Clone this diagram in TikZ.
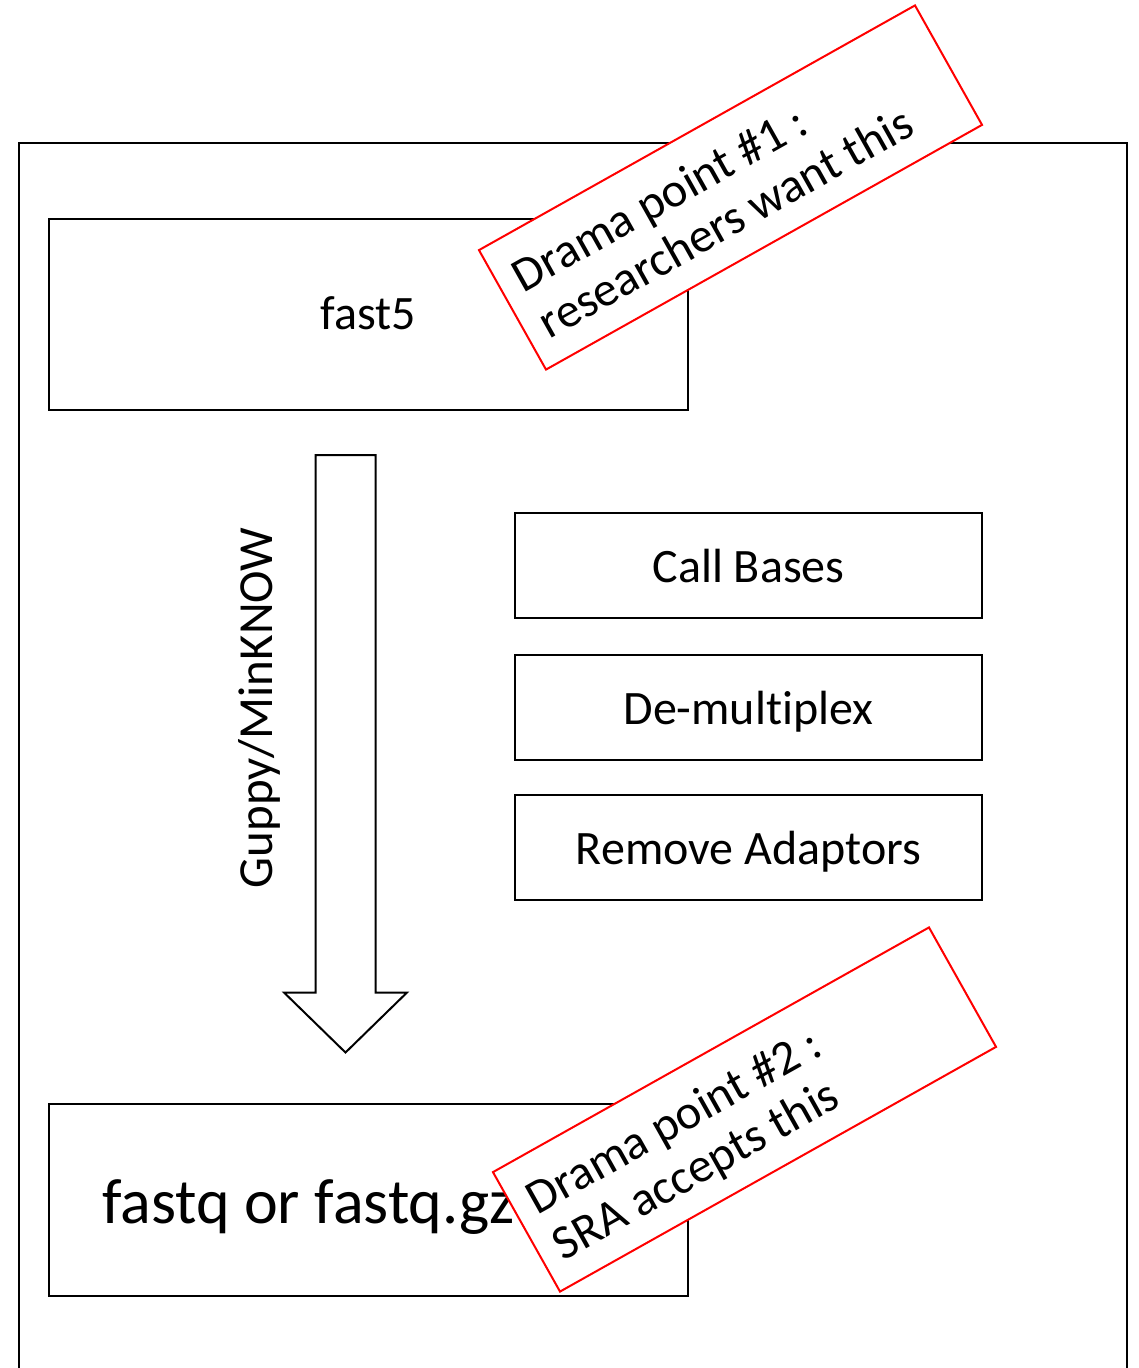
\documentclass[tikz,border=0pt]{standalone}
\usepackage{fontspec}
\usetikzlibrary{calc}
\setmainfont{Carlito}[Ligatures=NoCommon]
\begin{document}
\begin{tikzpicture}[x=1pt,y=1pt,
  frame/.style={draw=black, line width=2pt},
  box/.style={draw=black, line width=2pt, rectangle, inner sep=0pt,
              text depth=0pt, font=\fontsize{48}{57}\selectfont},
  label/.style={font=\fontsize{49}{58}\selectfont, inner sep=0pt},
  notetext/.style={font=\fontsize{48.5}{58}\selectfont, inner sep=0pt,
              rotate=29.3, anchor=base west},
  note/.style={draw=red, fill=white, line width=2pt, rectangle, inner sep=0pt,
              transform shape, minimum width=500pt, minimum height=137pt},
]
\useasboundingbox (0,0) rectangle (1138,-1368);

% outer frame, open at the bottom
\draw[frame] (18.5,-1372) -- (18.5,-142.5) -- (1127,-142.5) -- (1127,-1372);

% raw signal file
\node[box, minimum width=639pt, minimum height=191.5pt, text height=31pt]
  (fast5) at (368.25,-314.25) {fast5};

% processing steps
\node[box, minimum width=467pt, minimum height=105pt, text height=34pt]
  (callbases) at (748.5,-565.5) {Call Bases};
\node[box, minimum width=467pt, minimum height=105pt, text height=34pt]
  (demux) at (748.5,-707.5) {De-multiplex};
\node[box, minimum width=467pt, minimum height=105pt, text height=34pt]
  (adaptors) at (748.5,-847.5) {Remove Adaptors};

% output file
\node[box, minimum width=639pt, minimum height=192pt]
  (fastq) at (368.25,-1200) {};
\node[inner sep=0pt, anchor=base west, font=\fontsize{64}{77}\selectfont]
  (fastqtext) at (102,-1223) {fastq or fastq.gz};

% block arrow from fast5 to fastq
\coordinate (tail) at (345.5,-455);
\coordinate (tip) at (345.5,-1052.5);
\draw[frame, fill=white, line join=miter]
  ($(tail)+(-30,0)$) -- ($(tail)+(30,0)$) -- (375.5,-992.5) -- (407,-992.5)
  -- (tip) -- (284,-992.5) -- (315.5,-992.5) -- cycle;
\node[label, rotate=90, anchor=base] (guppy) at (272,-708) {Guppy/MinKNOW};

% annotations
\begin{scope}[shift={(730.5,-187.5)}, rotate=29.3]
  \node[note] (note1) at (0,0) {};
  \node[notetext] (note1a) at (-232,9) {Drama point \#1 :};
  \node[notetext] (note1b) at (-232,-44) {researchers want this};
\end{scope}
\begin{scope}[shift={(744.5,-1109.5)}, rotate=29.3]
  \node[note] (note2) at (0,0) {};
  \node[notetext] (note2a) at (-232,9) {Drama point \#2 :};
  \node[notetext] (note2b) at (-232,-44) {SRA accepts this};
\end{scope}
\end{tikzpicture}
\end{document}
